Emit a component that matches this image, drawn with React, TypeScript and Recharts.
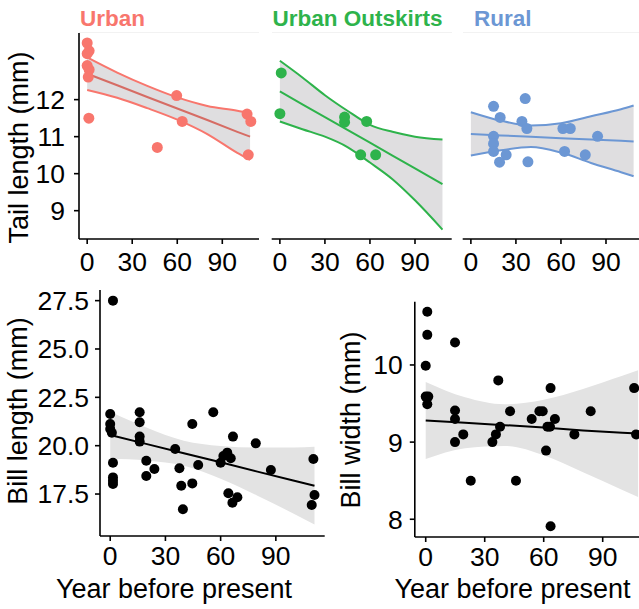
import { ComposedChart, Area, Line, Scatter, XAxis, YAxis } from 'recharts';

const FONT = '"Liberation Sans", Arial, Helvetica, sans-serif';

const URBAN = '#F8766D';
const URBAN_FIT = '#D66C64';
const OUTSKIRTS = '#2EB34B';
const RURAL = '#6C97D4';
const BAND_TOP = '#DFDEE0';
const BAND_BOTTOM = '#E3E3E3';

const yearTicks = [0, 30, 60, 90];
const tailTicks = [9, 10, 11, 12];
const billLengthTicks = [17.5, 20, 22.5, 25, 27.5];
const billWidthTicks = [8, 9, 10];

// Tail length, urban sites
const urbanYears = [0, 1.3, 0, 0, 1.3, 0.7, 1.1, 46.7, 59.6, 63.3, 106.5, 109, 107.3];
const urbanTail = [13.53, 13.32, 13.24, 12.92, 12.81, 12.61, 11.5, 10.71, 12.11, 11.41, 11.61, 11.41, 10.51];
const urbanFitYears = [0, 20, 40, 60, 80, 100, 108.5];
const urbanFit = [12.7, 12.39, 12.07, 11.76, 11.45, 11.13, 11.0];
const urbanLower = [12.26, 12.05, 11.77, 11.46, 11.07, 10.56, 10.37];
const urbanUpper = [13.14, 12.73, 12.37, 12.06, 11.83, 11.7, 11.63];

// Tail length, urban outskirts
const outskirtsYears = [0.9, 0, 43.1, 43.1, 57.8, 53.8, 63.8];
const outskirtsTail = [12.72, 11.62, 11.53, 11.39, 11.41, 10.51, 10.51];
const outskirtsFitYears = [0, 15, 30, 45, 60, 75, 90, 108.3];
const outskirtsFit = [12.22, 11.87, 11.53, 11.18, 10.84, 10.49, 10.14, 9.72];
const outskirtsLower = [11.41, 11.2, 11.0, 10.72, 10.3, 9.85, 9.28, 8.49];
const outskirtsUpper = [13.05, 12.6, 12.12, 11.7, 11.32, 11.13, 11.0, 10.92];

// Tail length, rural sites
const ruralYears = [15.1, 36.2, 19.5, 34, 37.3, 15.1, 15.1, 15.1, 23.5, 19.1, 38, 61.3, 66.2, 62.4, 76.2, 84.4];
const ruralTail = [11.82, 12.03, 11.52, 11.41, 11.22, 11.01, 10.81, 10.6, 10.51, 10.31, 10.32, 11.22, 11.22, 10.6, 10.51, 11.01];
const ruralFitYears = [0, 20, 40, 60, 80, 100, 108.4];
const ruralFit = [11.07, 11.03, 11.0, 10.96, 10.92, 10.89, 10.87];
const ruralLower = [10.49, 10.63, 10.72, 10.57, 10.29, 10.04, 9.93];
const ruralUpper = [11.66, 11.43, 11.3, 11.36, 11.55, 11.74, 11.84];

// Bill length, all sites
const billLengthYears = [1.5, 0, 0, 0, 0.9, 1.5, 1.5, 1.5, 1.5, 16, 16, 16, 16, 19.6, 19.6, 24, 35.3, 37.6, 38.6, 39.5, 44.6, 44.6, 47.8, 56, 60, 61.5, 63.6, 65.5, 64.2, 66.7, 66.4, 69.1, 79.1, 87.3, 110.4, 111, 109.5];
const billLength = [27.5, 21.64, 21.12, 20.86, 20.67, 19.12, 18.36, 18.19, 18.02, 21.73, 21.21, 20.47, 20.21, 19.22, 18.43, 18.79, 19.83, 18.83, 17.93, 16.71, 21.12, 18.05, 19.0, 21.73, 19.12, 19.47, 19.64, 19.35, 17.54, 20.47, 17.05, 17.33, 20.12, 18.74, 19.31, 17.45, 16.93];
const billLengthFitYears = [0, 20, 40, 60, 80, 100, 111];
const billLengthFit = [20.55, 20.08, 19.61, 19.14, 18.66, 18.19, 17.93];
const billLengthLower = [19.32, 19.23, 18.96, 18.29, 17.41, 16.47, 15.93];
const billLengthUpper = [21.76, 20.93, 20.26, 19.99, 19.91, 19.91, 19.95];

// Bill width, all sites
const billWidthYears = [0.8, 0.8, 0, 0, 1.3, 0.8, 14.9, 14.9, 14.9, 14.9, 19.1, 22.9, 33.9, 35.7, 36.9, 37.8, 42.9, 45.9, 53.9, 57.8, 59.5, 61.2, 61.9, 63.2, 63.5, 63.5, 65.7, 75.6, 83.9, 106, 107];
const billWidth = [10.69, 10.39, 9.99, 9.59, 9.59, 9.49, 10.29, 9.41, 9.3, 9.0, 9.1, 8.5, 9.0, 9.1, 9.8, 9.2, 9.4, 8.5, 9.3, 9.4, 9.4, 8.89, 9.2, 9.2, 9.7, 7.91, 9.3, 9.1, 9.4, 9.7, 9.1];
const billWidthFitYears = [0, 20, 40, 60, 80, 100, 108];
const billWidthFit = [9.28, 9.25, 9.22, 9.19, 9.15, 9.12, 9.11];
const billWidthLower = [8.78, 8.92, 8.95, 8.83, 8.61, 8.38, 8.29];
const billWidthUpper = [9.78, 9.58, 9.49, 9.55, 9.69, 9.86, 9.93];

type Pt = { x: number; y: number };
type Row = { x: number; fit: number; lo: number; hi: number; band: [number, number] };

const toPoints = (xs: number[], ys: number[]): Pt[] => xs.map((x, i) => ({ x, y: ys[i] }));
const toRows = (xs: number[], fit: number[], lo: number[], hi: number[]): Row[] =>
  xs.map((x, i) => ({ x, fit: fit[i], lo: lo[i], hi: hi[i], band: [lo[i], hi[i]] }));

const axisStroke = { stroke: '#000', strokeWidth: 1.6 };
const tickFont = { fill: '#000', fontSize: 26.5 };

interface PanelProps {
  left: number;
  top: number;
  width: number;
  height: number;
  margin: { top: number; right: number; bottom: number; left: number };
  xDomain: [number, number];
  xHeight: number;
  xTickMargin: number;
  yDomain: [number, number];
  yTicks?: number[];
  yWidth?: number;
  yTickMargin?: number;
  yFormat?: (v: number) => string;
  rows: Row[];
  points: Pt[];
  color: string;
  fitColor: string;
  band: string;
  bandLines: boolean;
  radius: number;
}

const Panel = (p: PanelProps) => (
  <div style={{ position: 'absolute', left: p.left, top: p.top }}>
    <ComposedChart width={p.width} height={p.height} data={p.rows} margin={p.margin}>
      <XAxis
        type="number"
        dataKey="x"
        domain={p.xDomain}
        allowDataOverflow
        ticks={yearTicks}
        interval={0}
        height={p.xHeight}
        tickSize={5}
        tickMargin={p.xTickMargin}
        axisLine={axisStroke}
        tickLine={axisStroke}
        tick={tickFont}
      />
      <YAxis
        type="number"
        dataKey="y"
        domain={p.yDomain}
        allowDataOverflow
        hide={!p.yTicks}
        ticks={p.yTicks}
        interval={0}
        width={p.yWidth ?? 0}
        tickSize={5}
        tickMargin={p.yTickMargin ?? 8}
        tickFormatter={p.yFormat}
        axisLine={axisStroke}
        tickLine={axisStroke}
        tick={tickFont}
      />
      <Area
        dataKey="band"
        type="monotone"
        stroke="none"
        fill={p.band}
        fillOpacity={1}
        isAnimationActive={false}
      />
      {p.bandLines && (
        <Line dataKey="lo" type="monotone" stroke={p.color} strokeWidth={2} dot={false} activeDot={false} isAnimationActive={false} />
      )}
      {p.bandLines && (
        <Line dataKey="hi" type="monotone" stroke={p.color} strokeWidth={2} dot={false} activeDot={false} isAnimationActive={false} />
      )}
      <Line dataKey="fit" type="linear" stroke={p.fitColor} strokeWidth={2} dot={false} activeDot={false} isAnimationActive={false} />
      <Scatter
        data={p.points}
        isAnimationActive={false}
        shape={(s: any) => <circle cx={s.cx} cy={s.cy} r={p.radius} fill={p.color} />}
      />
    </ComposedChart>
  </div>
);

const tailDomain: [number, number] = [8.235, 13.8];
const topYears: [number, number] = [-5.45, 114.45];
const bottomYears: [number, number] = [-5.55, 116.55];

export default function App() {
  return (
    <div
      style={{
        position: 'fixed',
        left: 0,
        top: 0,
        width: 639,
        height: 609,
        overflow: 'hidden',
        background: '#fff',
        fontFamily: FONT,
      }}
    >
      <Panel
        left={0}
        top={0}
        width={262}
        height={285}
        margin={{ top: 33, right: 3, bottom: 0, left: 0 }}
        xDomain={topYears}
        xHeight={46}
        xTickMargin={8}
        yDomain={tailDomain}
        yTicks={tailTicks}
        yWidth={79}
        yTickMargin={9}
        rows={toRows(urbanFitYears, urbanFit, urbanLower, urbanUpper)}
        points={toPoints(urbanYears, urbanTail)}
        color={URBAN}
        fitColor={URBAN_FIT}
        band={BAND_TOP}
        bandLines
        radius={5.5}
      />
      <Panel
        left={262}
        top={0}
        width={195}
        height={285}
        margin={{ top: 33, right: 5.3, bottom: 0, left: 9.7 }}
        xDomain={topYears}
        xHeight={46}
        xTickMargin={8}
        yDomain={tailDomain}
        rows={toRows(outskirtsFitYears, outskirtsFit, outskirtsLower, outskirtsUpper)}
        points={toPoints(outskirtsYears, outskirtsTail)}
        color={OUTSKIRTS}
        fitColor={OUTSKIRTS}
        band={BAND_TOP}
        bandLines
        radius={5.5}
      />
      <Panel
        left={457}
        top={0}
        width={190}
        height={285}
        margin={{ top: 33, right: 4.3, bottom: 0, left: 5.7 }}
        xDomain={topYears}
        xHeight={46}
        xTickMargin={8}
        yDomain={tailDomain}
        rows={toRows(ruralFitYears, ruralFit, ruralLower, ruralUpper)}
        points={toPoints(ruralYears, ruralTail)}
        color={RURAL}
        fitColor={RURAL}
        band={BAND_TOP}
        bandLines
        radius={5.5}
      />
      <Panel
        left={0}
        top={280}
        width={340}
        height={329}
        margin={{ top: 10, right: 15.3, bottom: 0, left: 0 }}
        xDomain={bottomYears}
        xHeight={73}
        xTickMargin={5}
        yDomain={[15.33, 28.05]}
        yTicks={billLengthTicks}
        yWidth={100}
        yTickMargin={6}
        yFormat={(v) => v.toFixed(1)}
        rows={toRows(billLengthFitYears, billLengthFit, billLengthLower, billLengthUpper)}
        points={toPoints(billLengthYears, billLength)}
        color="#000"
        fitColor="#000"
        band={BAND_BOTTOM}
        bandLines={false}
        radius={5}
      />
      <Panel
        left={330}
        top={280}
        width={330}
        height={329}
        margin={{ top: 21.7, right: 5.1, bottom: 0, left: 0 }}
        xDomain={bottomYears}
        xHeight={72}
        xTickMargin={5}
        yDomain={[7.77, 10.82]}
        yTicks={billWidthTicks}
        yWidth={84.8}
        yTickMargin={7}
        rows={toRows(billWidthFitYears, billWidthFit, billWidthLower, billWidthUpper)}
        points={toPoints(billWidthYears, billWidth)}
        color="#000"
        fitColor="#000"
        band={BAND_BOTTOM}
        bandLines={false}
        radius={5}
      />
      {/* facet strips and axis titles */}
      <svg
        width={639}
        height={609}
        style={{ position: 'absolute', left: 0, top: 0, pointerEvents: 'none' }}
        fontFamily={FONT}
      >
        <rect x={79} y={32} width={180} height={1} fill="#F2F2F2" />
        <rect x={272} y={32} width={180} height={1} fill="#F2F2F2" />
        <rect x={463} y={32} width={176} height={1} fill="#F2F2F2" />
        <text x={80} y={26} fontSize={22.5} fontWeight="bold" fill={URBAN}>Urban</text>
        <text x={272.5} y={26} fontSize={22.5} fontWeight="bold" fill={OUTSKIRTS}>Urban Outskirts</text>
        <text x={474} y={26} fontSize={22.5} fontWeight="bold" fill={RURAL}>Rural</text>
        <text x={27.5} y={147.5} fontSize={27} textAnchor="middle" transform="rotate(-90 27.5 147.5)">Tail length (mm)</text>
        <text x={26.5} y={411} fontSize={27} textAnchor="middle" transform="rotate(-90 26.5 411)">Bill length (mm)</text>
        <text x={359.5} y={420} fontSize={27} textAnchor="middle" transform="rotate(-90 359.5 420)">Bill width (mm)</text>
        <text x={174} y={598} fontSize={27} textAnchor="middle">Year before present</text>
        <text x={512.5} y={598} fontSize={27} textAnchor="middle">Year before present</text>
      </svg>
    </div>
  );
}
